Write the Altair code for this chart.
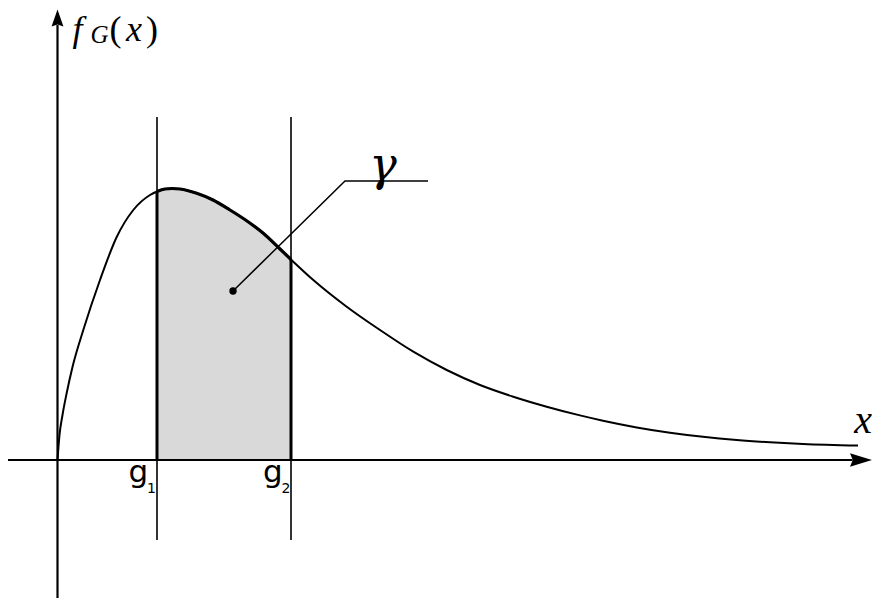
import altair as alt
import pandas as pd

# ---- data (schematic units: 1 unit = 100 px of the reference) ----
curve_x = [0.0, 0.02, 0.05, 0.092, 0.15, 0.258, 0.425, 0.592, 0.758, 0.925, 0.995,
           1.075, 1.145, 1.225, 1.392, 1.555, 1.725, 1.895, 2.058, 2.225, 2.335,
           2.558, 2.892, 3.225, 3.558, 3.892, 4.225, 4.558, 4.892, 5.225, 5.455,
           5.792, 6.125, 6.455, 6.792, 7.125, 7.455, 8.005]
curve_y = [0.0, 0.25, 0.45, 0.67, 0.93, 1.30, 1.80, 2.23, 2.50, 2.65, 2.685,
           2.71, 2.715, 2.71, 2.667, 2.60, 2.50, 2.39, 2.267, 2.11, 2.005,
           1.80, 1.533, 1.30, 1.083, 0.90, 0.75, 0.633, 0.533, 0.446, 0.393,
           0.326, 0.273, 0.232, 0.20, 0.177, 0.16, 0.144]

g1, g2 = 0.995, 2.335
guide_top, guide_bottom = 3.43, -0.80
leader_x = [1.755, 2.875, 3.705]
leader_y = [1.69, 2.79, 2.79]

XDOM = [-0.495, 8.155]
YDOM = [-1.38, 4.52]

curve = pd.DataFrame({"x": curve_x, "y": curve_y})
region = curve[(curve.x >= g1) & (curve.x <= g2)].reset_index(drop=True)

xs = alt.Scale(domain=XDOM, nice=False, zero=False)
ys = alt.Scale(domain=YDOM, nice=False, zero=False)
X = lambda f="x": alt.X(f"{f}:Q", scale=xs, axis=None)
Y = lambda f="y": alt.Y(f"{f}:Q", scale=ys, axis=None)

area = alt.Chart(region).mark_area(color="#d9d9d9", interpolate="monotone").encode(
    x=X(), y=Y(), y2=alt.datum(0))

region_top = alt.Chart(region).mark_line(color="black", strokeWidth=3.2, interpolate="monotone").encode(
    x=X(), y=Y())
region_sides = alt.Chart(pd.DataFrame({"x": [g1, g2], "y": [0.0, 0.0],
                                       "y2": [curve_y[curve_x.index(g1)], curve_y[curve_x.index(g2)]]})).mark_rule(
    color="black", strokeWidth=3).encode(x=X(), y=Y(), y2="y2:Q")

guides = alt.Chart(pd.DataFrame({"x": [g1, g2], "y": [guide_bottom] * 2, "y2": [guide_top] * 2})).mark_rule(
    color="black", strokeWidth=1.6).encode(x=X(), y=Y(), y2="y2:Q")

curve_l = alt.Chart(curve).mark_line(color="black", strokeWidth=2, interpolate="monotone").encode(
    x=X(), y=Y())

xaxis = alt.Chart(pd.DataFrame({"x": [-0.6], "x2": [7.95], "y": [0.0]})).mark_rule(
    color="black", strokeWidth=2.2).encode(x=X(), x2="x2:Q", y=Y())
yaxis = alt.Chart(pd.DataFrame({"x": [0.0], "y": [-1.5], "y2": [4.35]})).mark_rule(
    color="black", strokeWidth=2.2).encode(x=X(), y=Y(), y2="y2:Q")

arrow_r = alt.Chart(pd.DataFrame({"x": [8.035], "y": [0.0]})).mark_point(
    shape="M1,0 L-1,-0.62 L-0.75,0 L-1,0.62 Z", size=484, filled=True, color="black", opacity=1,
    strokeWidth=0).encode(x=X(), y=Y())
arrow_u = alt.Chart(pd.DataFrame({"x": [0.0], "y": [4.42]})).mark_point(
    shape="M0,-1 L0.7,1 L0,0.75 L-0.7,1 Z", size=289, filled=True, color="black", opacity=1,
    strokeWidth=0).encode(x=X(), y=Y())

leader = alt.Chart(pd.DataFrame({"x": leader_x, "y": leader_y, "o": [0, 1, 2]})).mark_line(
    color="black", strokeWidth=1.5).encode(x=X(), y=Y(), order="o:Q")
dot = alt.Chart(pd.DataFrame({"x": [leader_x[0]], "y": [leader_y[0]]})).mark_point(
    filled=True, color="black", size=55, opacity=1).encode(x=X(), y=Y())

serif = "Liberation Serif"
labels_it = pd.DataFrame({
    "x": [0.15, 0.33, 0.765, 8.055],
    "y": [4.19, 4.17, 4.19, 0.27],
    "t": ["f", "G", "x", "x"],
    "s": [36, 25, 36, 40],
    "a": ["left", "left", "center", "center"],
})
labels_gamma = pd.DataFrame({"x": [3.255], "y": [2.80], "t": ["γ"], "s": [46], "a": ["center"]})
labels_up = pd.DataFrame({
    "x": [0.52, 1.005],
    "y": [4.19, 4.19],
    "t": ["(", ")"],
    "s": [36, 36],
    "a": ["left", "right"],
})
labels_g = pd.DataFrame({
    "x": [0.71, 0.895, 2.055, 2.24],
    "y": [-0.22, -0.33, -0.22, -0.33],
    "t": ["g", "1", "g", "2"],
    "s": [31, 14, 31, 14],
    "a": ["left", "left", "left", "left"],
})

def txt(df, style, font):
    layers = []
    for _, r in df.iterrows():
        kw = dict(font=font, fontSize=int(r.s), align=r.a, baseline="alphabetic", color="black")
        if style:
            kw["fontStyle"] = style
        layers.append(alt.Chart(pd.DataFrame([r])).mark_text(**kw).encode(x=X(), y=Y(), text="t:N"))
    return layers

layers = [area, guides, region_sides, region_top, curve_l, xaxis, yaxis, arrow_r, arrow_u, leader, dot]
layers += txt(labels_it, "italic", serif)
layers += txt(labels_gamma, "italic", "DejaVu Serif")
layers += txt(labels_up, None, serif)
layers += txt(labels_g, None, "DejaVu Sans")

chart = alt.layer(*layers).properties(
    width=865, height=590, padding=0, autosize=alt.AutoSizeParams(type="none"),
    background="white",
).configure_view(stroke=None)

chart.save("out.html", embed_options={"renderer": "svg", "actions": False})
